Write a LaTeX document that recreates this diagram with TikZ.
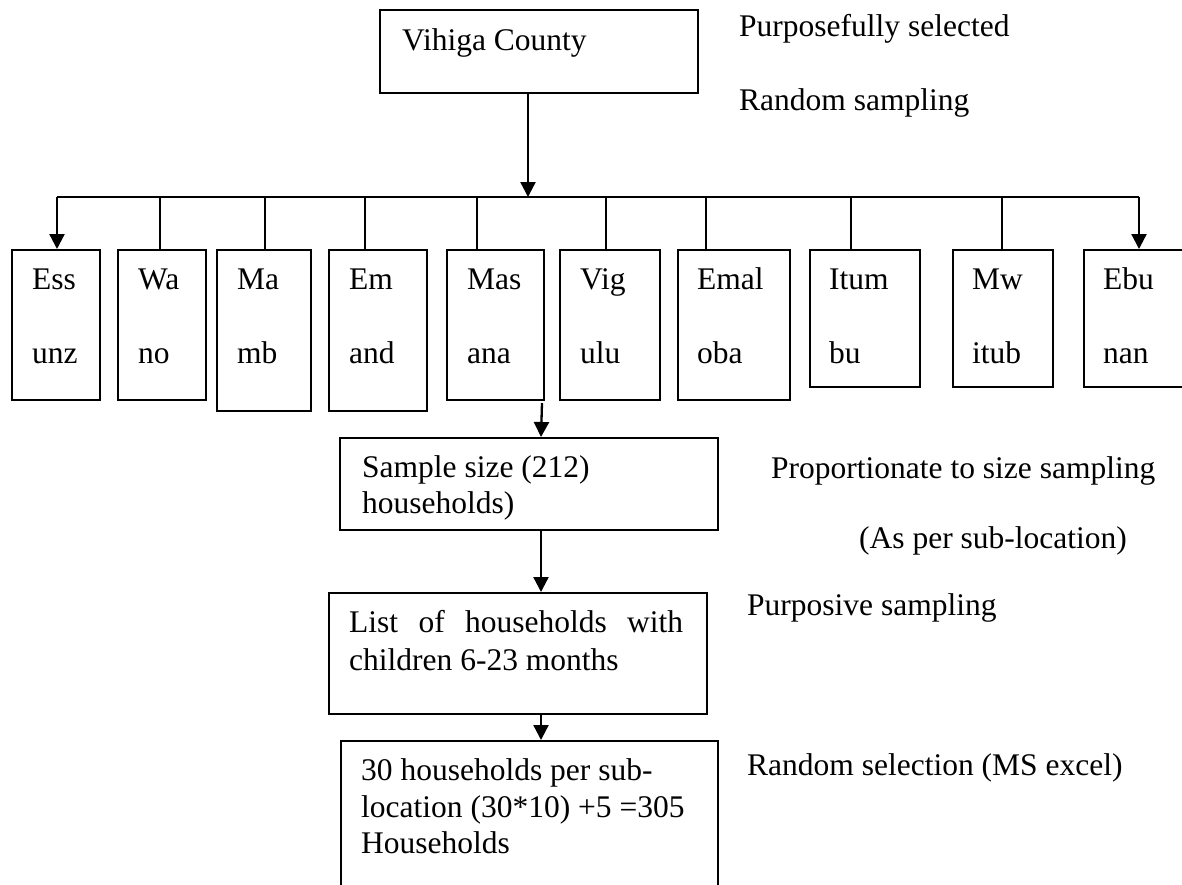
\documentclass[tikz,border=0pt]{standalone}
\usepackage{fontspec}
\setmainfont{Liberation Serif}
\usetikzlibrary{arrows.meta}
\begin{document}
\begin{tikzpicture}[x=1pt,y=-1pt,
  box/.style={draw, line width=2.3pt, inner sep=0pt, anchor=north west},
  txt/.style={inner sep=0pt, anchor=base west, font=\fontsize{31.5pt}{37pt}\selectfont},
  arr/.style={line width=2.3pt, -{Triangle[length=15pt,width=15pt]}},
  ln/.style={line width=2.3pt}]
\clip (0,0) rectangle (1182,884);
\fill[white] (0,0) rectangle (1182,884);

% top box
\node[box, minimum width=318pt, minimum height=83pt] (county) at (379,9) {};
\node[txt] (tcounty) at (402,50) {Vihiga County};
\node[txt] (lab1) at (739,36) {Purposefully selected};
\node[txt] (lab2) at (739,110) {Random sampling};

% sub-location boxes
\node[box, minimum width=88pt,  minimum height=150pt] (ess)  at (11,249) {};
\node[box, minimum width=88pt,  minimum height=150pt] (wa)   at (117,249) {};
\node[box, minimum width=94pt,  minimum height=161pt] (ma)   at (216,249) {};
\node[box, minimum width=98pt,  minimum height=161pt] (em)   at (328,249) {};
\node[box, minimum width=97pt,  minimum height=150pt] (mas)  at (446,249) {};
\node[box, minimum width=100pt, minimum height=150pt] (vig)  at (559,249) {};
\node[box, minimum width=112pt, minimum height=150pt] (emal) at (677,249) {};
\node[box, minimum width=110pt, minimum height=137pt] (itum) at (809,249) {};
\node[box, minimum width=100pt, minimum height=137pt] (mw)   at (952,249) {};
\node[box, minimum width=117pt, minimum height=137pt] (ebu)  at (1083,249) {};

\node[txt] (t1a) at (32,289) {Ess};   \node[txt] (t1b) at (32,363) {unz};
\node[txt] (t2a) at (138,289) {Wa};   \node[txt] (t2b) at (138,363) {no};
\node[txt] (t3a) at (237,289) {Ma};   \node[txt] (t3b) at (237,363) {mb};
\node[txt] (t4a) at (349,289) {Em};   \node[txt] (t4b) at (349,363) {and};
\node[txt] (t5a) at (467,289) {Mas};  \node[txt] (t5b) at (467,363) {ana};
\node[txt] (t6a) at (580,289) {Vig};  \node[txt] (t6b) at (580,363) {ulu};
\node[txt] (t7a) at (697,289) {Emal}; \node[txt] (t7b) at (697,363) {oba};
\node[txt] (t8a) at (829,289) {Itum}; \node[txt] (t8b) at (829,363) {bu};
\node[txt] (t9a) at (972,289) {Mw};   \node[txt] (t9b) at (972,363) {itub};
\node[txt] (t10a) at (1103,289) {Ebu}; \node[txt] (t10b) at (1103,363) {nan};

% bus
\coordinate (hub) at (528,197);
\coordinate (bL) at (57,197);
\coordinate (bR) at (1139,197);
\draw[arr] (county.south -| hub) -- (hub);
\draw[ln] (bL) -- (bR);
\draw[arr] (bL) -- (ess.north -| bL);
\draw[arr] (bR) -- (ebu.north -| bR);
\coordinate (cWa) at (160,197);   \draw[ln] (cWa) -- (cWa |- wa.north);
\coordinate (cMa) at (265,197);   \draw[ln] (cMa) -- (cMa |- ma.north);
\coordinate (cEm) at (365,197);   \draw[ln] (cEm) -- (cEm |- em.north);
\coordinate (cMas) at (477,197);  \draw[ln] (cMas) -- (cMas |- mas.north);
\coordinate (cVig) at (606,197);  \draw[ln] (cVig) -- (cVig |- vig.north);
\coordinate (cEmal) at (706,197); \draw[ln] (cEmal) -- (cEmal |- emal.north);
\coordinate (cItum) at (851,197); \draw[ln] (cItum) -- (cItum |- itum.north);
\coordinate (cMw) at (1002,197);  \draw[ln] (cMw) -- (cMw |- mw.north);

% lower chain
\node[box, minimum width=378pt, minimum height=92pt]  (sample) at (339,437) {};
\node[box, minimum width=378pt, minimum height=121pt] (list)   at (328,592) {};
\node[box, minimum width=377pt, minimum height=170pt] (last)   at (340,740) {};

\node[txt] (s1) at (362,477) {Sample size (212)};
\node[txt] (s2) at (362,513) {households)};
\node[txt] (l1) at (349,632) {\makebox[334pt][s]{List of households with}};
\node[txt] (l2) at (349,670) {children 6-23 months};
\node[txt] (h1) at (361,780) {30 households per sub-};
\node[txt] (h2) at (361,817) {location (30*10) +5 =305};
\node[txt] (h3) at (361,853) {Households};

\node[txt] (lab3) at (771,478) {Proportionate to size sampling};
\node[txt] (lab4) at (859,548) {(As per sub-location)};
\node[txt] (lab5) at (747,615) {Purposive sampling};
\node[txt] (lab6) at (747,775) {Random selection (MS excel)};

\coordinate (ax) at (541,0);
\coordinate (a1) at (542,403);
\draw[arr] (a1) -- (sample.north -| ax);
\draw[arr] (sample.south -| ax) -- (list.north -| ax);
\draw[arr] (list.south -| ax) -- (last.north -| ax);
\end{tikzpicture}
\end{document}
